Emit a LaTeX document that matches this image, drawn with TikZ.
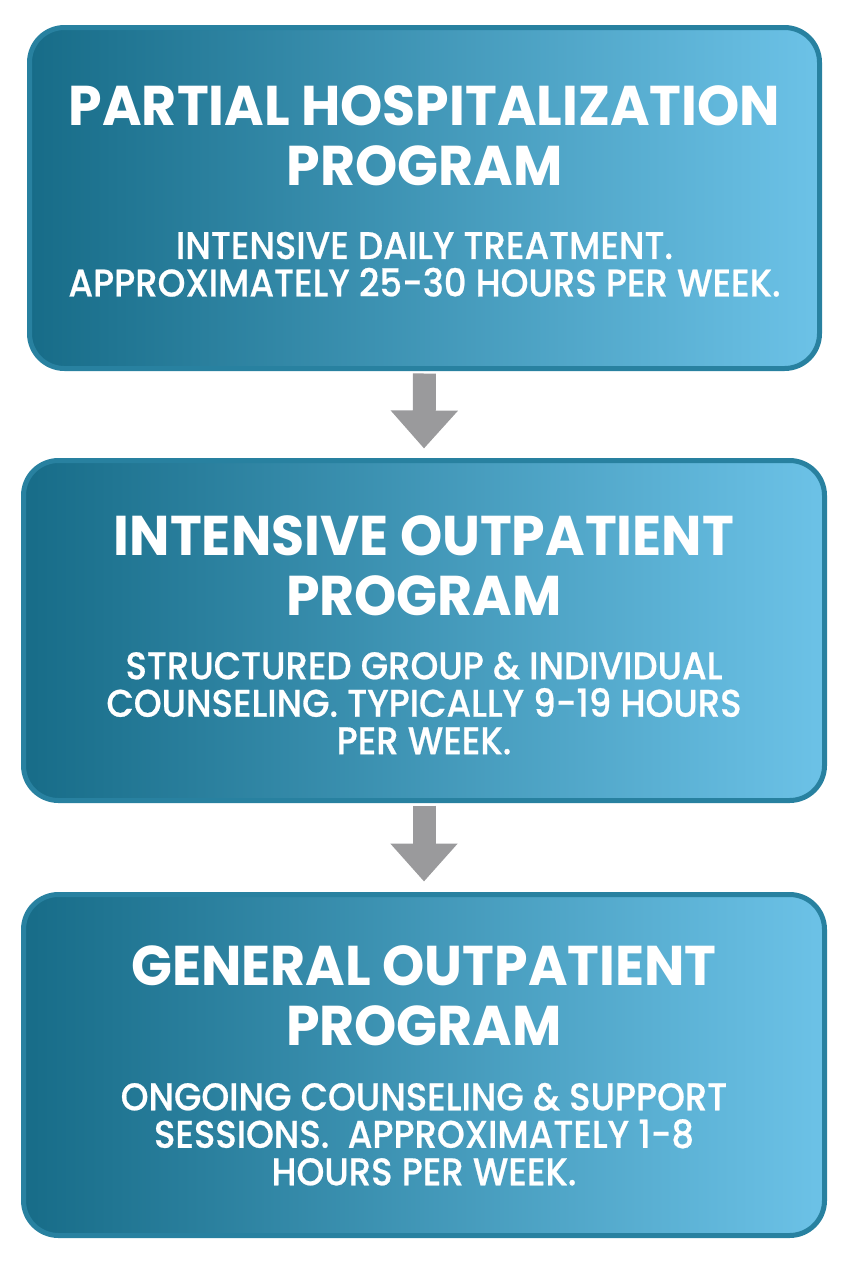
\documentclass[tikz,border=0pt]{standalone}
\usepackage{fontspec}
\setmainfont{Poppins}
\newfontfamily\headfont{Poppins}[FakeStretch=0.96]
\newfontfamily\bodyfont{Poppins Medium}[FakeStretch=0.92,FakeBold=0.6]
\usetikzlibrary{positioning,arrows.meta}
\definecolor{boxdark}{HTML}{176C88}
\definecolor{boxmid}{HTML}{2E88A5}
\definecolor{boxlight}{HTML}{6CC2E7}
\definecolor{boxedge}{HTML}{2881A0}
\definecolor{arrowgray}{HTML}{9A9A9C}
\tikzset{
  stage/.style={draw=boxedge, line width=5pt, rounded corners=35pt,
    left color=boxdark, middle color=boxmid, right color=boxlight,
    minimum width=801pt, inner sep=0pt},
  heading/.style={text=white, align=center, inner sep=0pt,
    font=\headfont\bfseries\fontsize{56}{60}\selectfont},
  detail/.style={text=white, align=center, inner sep=0pt,
    font=\bodyfont\fontsize{38.5}{37.5}\selectfont},
  flow/.style={draw=arrowgray, line width=23pt, shorten <=2.5pt,
    -{Triangle[width=65pt,length=38pt]}}
}
\begin{document}
\begin{tikzpicture}[x=1pt,y=-1pt]
  \useasboundingbox (0,0) rectangle (848,1264);
  % program levels
  \node[stage, minimum width=790pt, minimum height=341pt] (php) at (424.5,198) {};
  \node[stage, minimum height=340pt] (iop) at (424,630.5) {};
  \node[stage, minimum height=341pt] (gop) at (424,1065) {};
  \node[heading, below=60.5pt of php.north] (phpT) {PARTIAL HOSPITALIZATION\\PROGRAM};
  \node[detail, below=45.5pt of phpT] (phpD) {INTENSIVE DAILY TREATMENT.\\APPROXIMATELY 25-30 HOURS PER WEEK.};
  \node[heading, below=57pt of iop.north] (iopT) {INTENSIVE OUTPATIENT\\PROGRAM};
  \node[detail, below=36pt of iopT] (iopD) {STRUCTURED GROUP \& INDIVIDUAL\\COUNSELING. TYPICALLY 9-19 HOURS\\PER WEEK.};
  \node[heading, below=53pt of gop.north] (gopT) {GENERAL OUTPATIENT\\PROGRAM};
  \node[detail, below=37pt of gopT] (gopD) {ONGOING COUNSELING \& SUPPORT\\SESSIONS.~~APPROXIMATELY 1-8\\HOURS PER WEEK.};
  % step down
  \begin{scope}[flow]
    \draw (php.south) -- ([yshift=9.5pt]iop.north);
    \draw (iop.south) -- ([yshift=10.5pt]gop.north);
  \end{scope}
\end{tikzpicture}
\end{document}
